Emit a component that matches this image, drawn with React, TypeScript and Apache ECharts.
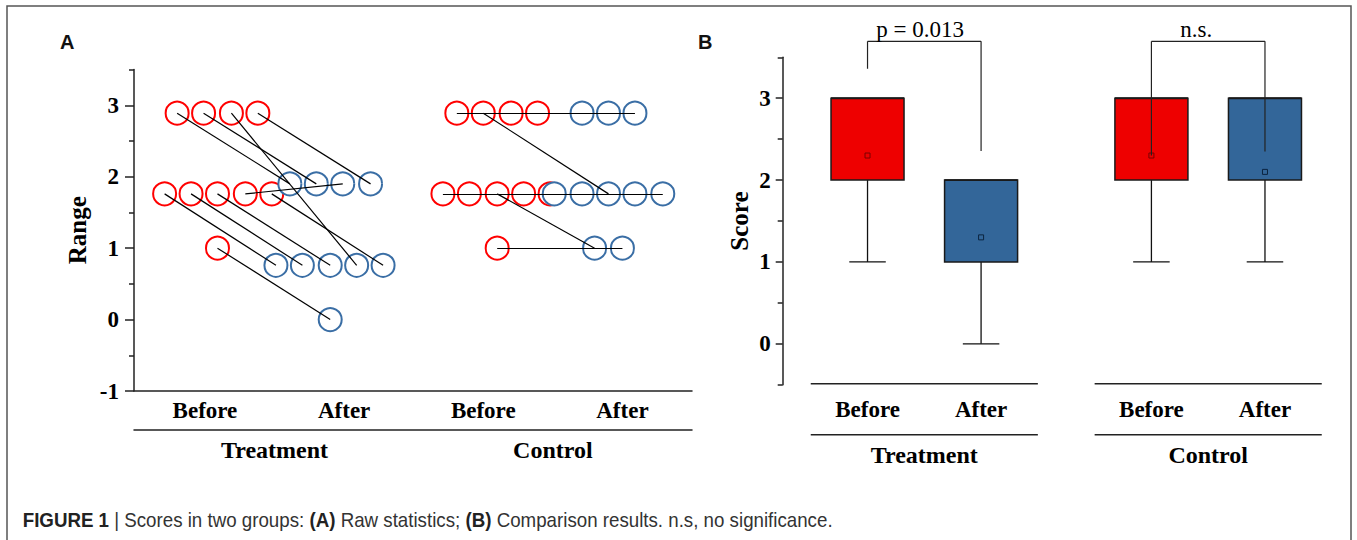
import React, { useEffect, useRef } from 'react';
import * as echarts from 'echarts';

// ---------- Panel A: raw paired scores ----------
// x: jittered position (1 = Treatment Before, 2 = Treatment After, 3 = Control Before, 4 = Control After)
const categoriesA = ['Before', 'After', 'Before', 'After'];
const categoryPosA = [1, 2, 3, 4];
const groupsA = ['Treatment', 'Control'];
const groupPosA = [1.5, 3.5];
const yTicksA = [-1, 0, 1, 2, 3];
const yMinorA = [-0.5, 0.5, 1.5, 2.5, 3.5];

// [beforeX, beforeY, afterX, afterY]
const treatmentPairs = [
  [0.80, 2.89, 1.61, 1.90],
  [0.99, 2.89, 1.80, 1.90],
  [1.19, 2.89, 2.09, 0.76],
  [1.38, 2.89, 2.19, 1.90],
  [0.71, 1.76, 1.51, 0.76],
  [0.90, 1.76, 1.70, 0.76],
  [1.09, 1.76, 1.90, 0.76],
  [1.29, 1.76, 1.99, 1.90],
  [1.48, 1.76, 2.28, 0.76],
  [1.09, 1.00, 1.90, 0.00],
];
const controlPairs = [
  [2.81, 2.89, 4.09, 2.89],
  [3.00, 2.89, 3.90, 1.76],
  [3.20, 2.89, 3.71, 2.89],
  [3.39, 2.89, 3.90, 2.89],
  [2.71, 1.76, 4.29, 1.76],
  [2.90, 1.76, 4.09, 1.76],
  [3.10, 1.76, 3.80, 1.00],
  [3.29, 1.76, 3.71, 1.76],
  [3.48, 1.76, 3.51, 1.76],
  [3.10, 1.00, 4.00, 1.00],
];

// ---------- Panel B: box plots ----------
const boxLabels = ['Before', 'After', 'Before', 'After'];
const boxPos = [1, 2, 3.5, 4.5];
const groupsB = ['Treatment', 'Control'];
const groupPosB = [1.5, 4];
const groupSpanB = [[0.5, 2.5], [3, 5]];
const boxMin = [1, 0, 1, 1];
const boxQ1 = [2, 1, 2, 2];
const boxMedian = [3, 2, 3, 3];
const boxQ3 = [3, 2, 3, 3];
const boxMax = [3, 2, 3, 3];
const boxMean = [2.3, 1.3, 2.3, 2.1];
const yTicksB = [0, 1, 2, 3];
const yMinorB = [-0.5, 0.5, 1.5, 2.5, 3.5];
// [leftX, rightX, topY, leftEndY, rightEndY, labelX]
const brackets = [
  [1, 2, 3.695, 3.36, 2.355, 1.463],
  [3.5, 4.5, 3.695, 2.30, 2.35, 3.894],
];
const bracketLabels = ['p = 0.013', 'n.s.'];

const captionParts: [string, string][] = [
  ['FIGURE 1', 'b'],
  [' | Scores in two groups: ', 'r'],
  ['(A)', 'b'],
  [' Raw statistics; ', 'r'],
  ['(B)', 'b'],
  [' Comparison results. n.s, no significance.', 'r'],
];

const RED = '#ff0000';
const BLUE = '#3a6ea5';
const BOX_RED = '#ee0000';
const BOX_BLUE = '#336699';
const SERIF = "'Liberation Serif', 'Times New Roman', serif";
const SANS = "'Liberation Sans', Arial, sans-serif";

function lookup(vals: number[], labels: string[]) {
  return (v: number) => {
    const i = vals.findIndex((x) => Math.abs(x - v) < 1e-6);
    return i >= 0 ? labels[i] : '';
  };
}

export default function App() {
  const ref = useRef<HTMLDivElement>(null);
  useEffect(() => {
    if (!ref.current) return;
    const chart = echarts.init(ref.current, undefined, { renderer: 'svg' });

    const capSize = 20;
    const ctx = document.createElement('canvas').getContext('2d')!;
    let capW = 0;
    captionParts.forEach(([t, s]) => {
      ctx.font = `${s === 'b' ? 'bold ' : ''}${capSize}px ${SANS}`;
      capW += ctx.measureText(t).width;
    });
    const capScale = capW > 0 ? 810 / capW : 1;

    const allPairs = [...treatmentPairs, ...controlPairs];
    const labelStyle = { fontFamily: SERIF, fontWeight: 'bold' as const, color: '#000' };
    const axisLineStyle = { color: '#222', width: 1.5 };

    const option: any = {
      animation: false,
      backgroundColor: '#fff',
      grid: [
        { left: 134, right: 665, top: 69.6, bottom: 149, containLabel: false, outerBoundsMode: 'none' },
        { left: 782.7, right: 35.25, top: 57.3, bottom: 155.3, containLabel: false, outerBoundsMode: 'none' },
      ],
      xAxis: [
        {
          gridIndex: 0, type: 'value', min: 0.49, max: 4.5, position: 'bottom',
          axisLine: { show: true, onZero: false, lineStyle: axisLineStyle },
          axisTick: { show: false }, splitLine: { show: false },
          axisLabel: { customValues: categoryPosA, formatter: lookup(categoryPosA, categoriesA), margin: 8, fontSize: 23, ...labelStyle },
        },
        {
          gridIndex: 0, type: 'value', min: 0.49, max: 4.5, position: 'bottom', offset: 39,
          axisLine: { show: true, onZero: false, lineStyle: axisLineStyle },
          axisTick: { show: false }, splitLine: { show: false },
          axisLabel: { customValues: groupPosA, formatter: lookup(groupPosA, groupsA), margin: 8, fontSize: 24, ...labelStyle },
        },
        {
          gridIndex: 1, type: 'value', min: 0.253, max: 5, position: 'bottom',
          axisLine: { show: false, onZero: false },
          axisTick: { show: false }, splitLine: { show: false },
          axisLabel: { customValues: boxPos, formatter: lookup(boxPos, boxLabels), margin: 13, fontSize: 23, ...labelStyle },
        },
        {
          gridIndex: 1, type: 'value', min: 0.253, max: 5, position: 'bottom', offset: 51,
          axisLine: { show: false, onZero: false },
          axisTick: { show: false }, splitLine: { show: false },
          axisLabel: { customValues: groupPosB, formatter: lookup(groupPosB, groupsB), margin: 7, fontSize: 24, ...labelStyle },
        },
      ],
      yAxis: [
        {
          gridIndex: 0, type: 'value', min: -1, max: 3.5, position: 'left',
          axisLine: { show: true, onZero: false, lineStyle: axisLineStyle },
          axisTick: { show: true, customValues: yTicksA, length: 9, lineStyle: { color: '#222', width: 1.5 } },
          splitLine: { show: false },
          axisLabel: { customValues: yTicksA, margin: 15, fontSize: 23, ...labelStyle },
          name: 'Range', nameLocation: 'middle', nameGap: 44,
          nameTextStyle: { fontSize: 25, ...labelStyle },
        },
        {
          gridIndex: 0, type: 'value', min: -1, max: 3.5, position: 'left',
          axisLine: { show: false, onZero: false },
          axisTick: { show: true, customValues: yMinorA, length: 5, lineStyle: { color: '#222', width: 1.5 } },
          splitLine: { show: false }, axisLabel: { show: false },
        },
        {
          gridIndex: 1, type: 'value', min: -0.5, max: 3.5, position: 'left',
          axisLine: { show: true, onZero: false, lineStyle: axisLineStyle },
          axisTick: { show: true, customValues: yTicksB, length: 7, lineStyle: { color: '#222', width: 1.5 } },
          splitLine: { show: false },
          axisLabel: { customValues: yTicksB, margin: 12, fontSize: 23, ...labelStyle },
          name: 'Score', nameLocation: 'middle', nameGap: 31,
          nameTextStyle: { fontSize: 25, ...labelStyle },
        },
        {
          gridIndex: 1, type: 'value', min: -0.5, max: 3.5, position: 'left',
          axisLine: { show: false, onZero: false },
          axisTick: { show: true, customValues: yMinorB, length: 5, lineStyle: { color: '#222', width: 1.5 } },
          splitLine: { show: false }, axisLabel: { show: false },
        },
      ],
      series: [
        {
          type: 'scatter', xAxisIndex: 0, yAxisIndex: 0, symbol: 'circle', symbolSize: 23,
          data: allPairs.map((p) => [p[0], p[1]]),
          itemStyle: { color: '#fff', borderColor: RED, borderWidth: 2, opacity: 1 },
          silent: true, clip: false,
        },
        {
          type: 'scatter', xAxisIndex: 0, yAxisIndex: 0, symbol: 'circle', symbolSize: 23,
          data: allPairs.map((p) => [p[2], p[3]]),
          itemStyle: { color: '#fff', borderColor: BLUE, borderWidth: 2, opacity: 1 },
          silent: true, clip: false,
        },
        {
          type: 'lines', coordinateSystem: 'cartesian2d', xAxisIndex: 0, yAxisIndex: 0,
          data: allPairs.map((p) => ({ coords: [[p[0], p[1]], [p[2], p[3]]] })),
          lineStyle: { color: '#000', width: 1.2, opacity: 1 },
          silent: true, z: 3,
        },
        {
          type: 'custom', xAxisIndex: 2, yAxisIndex: 2,
          data: boxPos.map((x, i) => [x, boxMin[i], boxQ1[i], boxMedian[i], boxQ3[i], boxMax[i], boxMean[i], i]),
          encode: { x: 0, y: [1, 2, 3, 4, 5] },
          renderItem: (params: any, api: any) => {
            const x = api.value(0);
            const idx = api.value(7);
            const fill = idx % 2 === 0 ? BOX_RED : BOX_BLUE;
            const meanStroke = idx % 2 === 0 ? '#7a0000' : '#0b2440';
            const w = api.size([0.643, 0])[0];
            const pMin = api.coord([x, api.value(1)]);
            const pQ1 = api.coord([x, api.value(2)]);
            const pMed = api.coord([x, api.value(3)]);
            const pQ3 = api.coord([x, api.value(4)]);
            const pMax = api.coord([x, api.value(5)]);
            const pMean = api.coord([x, api.value(6)]);
            const cx = pQ1[0];
            const ln = (x1: number, y1: number, x2: number, y2: number) => ({
              type: 'line', shape: { x1, y1, x2, y2 }, style: { stroke: '#111', lineWidth: 1.3 },
            });
            const children: any[] = [
              ln(cx, pQ1[1], cx, pMin[1]),
              ln(cx - w / 4, pMin[1], cx + w / 4, pMin[1]),
            ];
            if (pMax[1] < pQ3[1] - 0.5) {
              children.push(ln(cx, pQ3[1], cx, pMax[1]));
              children.push(ln(cx - w / 4, pMax[1], cx + w / 4, pMax[1]));
            }
            children.push({
              type: 'rect', shape: { x: cx - w / 2, y: pQ3[1], width: w, height: pQ1[1] - pQ3[1] },
              style: { fill, stroke: '#1a1a1a', lineWidth: 1.5 },
            });
            children.push({
              type: 'line', shape: { x1: cx - w / 2, y1: pMed[1], x2: cx + w / 2, y2: pMed[1] },
              style: { stroke: '#1a1a1a', lineWidth: 1.8 },
            });
            children.push({
              type: 'rect', shape: { x: cx - 2.5, y: pMean[1] - 2.5, width: 5, height: 5 },
              style: { fill: 'none', stroke: meanStroke, lineWidth: 1 },
            });
            return { type: 'group', children };
          },
          silent: true, z: 2,
        },
        {
          type: 'custom', xAxisIndex: 2, yAxisIndex: 2,
          data: groupSpanB,
          encode: { x: [0, 1] },
          renderItem: (params: any, api: any) => {
            const a = api.coord([api.value(0), -0.5]);
            const b = api.coord([api.value(1), -0.5]);
            const st = { stroke: '#222', lineWidth: 1.5 };
            return {
              type: 'group',
              children: [
                { type: 'line', shape: { x1: a[0], y1: a[1] - 1, x2: b[0], y2: b[1] - 1 }, style: st },
                { type: 'line', shape: { x1: a[0], y1: a[1] + 50, x2: b[0], y2: b[1] + 50 }, style: st },
              ],
            };
          },
          silent: true,
        },
        {
          type: 'custom', xAxisIndex: 2, yAxisIndex: 2,
          data: brackets.map((b, i) => [...b, i]),
          encode: { x: [0, 1] },
          renderItem: (params: any, api: any) => {
            const xl = api.value(0), xr = api.value(1), yt = api.value(2);
            const pTL = api.coord([xl, yt]);
            const pTR = api.coord([xr, yt]);
            const pL = api.coord([xl, api.value(3)]);
            const pR = api.coord([xr, api.value(4)]);
            const pLab = api.coord([api.value(5), yt]);
            const st = { stroke: '#222', lineWidth: 1.2 };
            return {
              type: 'group',
              children: [
                { type: 'line', shape: { x1: pL[0], y1: pL[1], x2: pTL[0], y2: pTL[1] }, style: st },
                { type: 'line', shape: { x1: pTL[0], y1: pTL[1], x2: pTR[0], y2: pTR[1] }, style: st },
                { type: 'line', shape: { x1: pTR[0], y1: pTR[1], x2: pR[0], y2: pR[1] }, style: st },
                {
                  type: 'text', x: pLab[0], y: pLab[1] - 12,
                  style: {
                    text: bracketLabels[api.value(6)], fontFamily: SERIF, fontSize: 23,
                    fill: '#000', align: 'center', verticalAlign: 'middle',
                  },
                },
              ],
            };
          },
          silent: true, z: 5,
        },
      ],
      graphic: [
        {
          type: 'rect', shape: { x: 7, y: 6, width: 1344, height: 600 },
          style: { fill: 'none', stroke: '#555', lineWidth: 1.5 }, silent: true,
        },
        {
          type: 'text', x: 60, y: 42,
          style: { text: 'A', fontFamily: SANS, fontWeight: 'bold', fontSize: 20, fill: '#111', verticalAlign: 'middle' },
        },
        {
          type: 'text', x: 698, y: 42,
          style: { text: 'B', fontFamily: SANS, fontWeight: 'bold', fontSize: 20, fill: '#111', verticalAlign: 'middle' },
        },
        {
          type: 'text', x: 22.7, y: 520, scaleX: capScale,
          style: {
            text: captionParts.map(([t, s]) => `{${s}|${t}}`).join(''),
            verticalAlign: 'middle', align: 'left',
            rich: {
              b: { fontFamily: SANS, fontWeight: 'bold', fontSize: capSize, fill: '#222' },
              r: { fontFamily: SANS, fontSize: capSize, fill: '#333' },
            },
          },
        },
      ],
    };
    chart.setOption(option);
    return () => chart.dispose();
  }, []);
  return (
    <div
      ref={ref}
      style={{ position: 'fixed', left: 0, top: 0, width: 1357, height: 540, background: '#fff' }}
    />
  );
}
